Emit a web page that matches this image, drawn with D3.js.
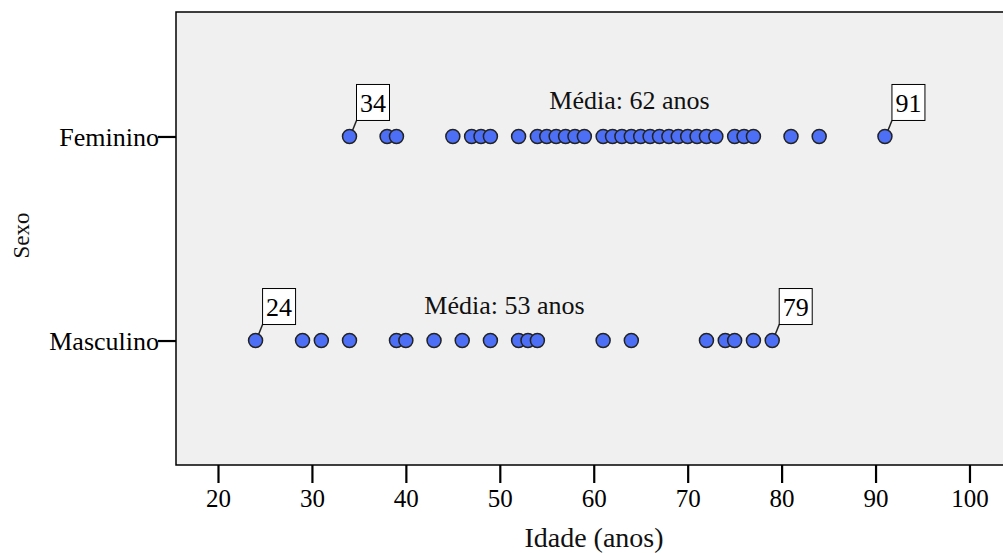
<!DOCTYPE html>
<html>
<head>
<meta charset="utf-8">
<script src="https://cdn.jsdelivr.net/npm/d3@7"></script>
<style>
  html, body { margin: 0; padding: 0; background: #fff; }
  svg { display: block; }
  svg text { font-family: Liberation Serif, serif; }
</style>
</head>
<body>
<svg id="chart" width="1003" height="553" font-family="Liberation Serif"></svg>
<script>
// Categories (top to bottom)
const groups = ["Feminino", "Masculino"];

// Ages
const agesFeminino = [34, 38, 39, 45, 47, 48, 49, 52, 54, 55, 56, 57, 58, 59, 61, 62, 63, 64,
  65, 66, 67, 68, 69, 70, 71, 72, 73, 75, 76, 77, 81, 84, 91];
const agesMasculino = [24, 29, 31, 34, 39, 40, 43, 46, 49, 52, 53, 54, 61, 64, 72, 74, 75, 77, 79];

// Min / max callouts and mean labels
const extremes = [
  { group: "Feminino", age: 34 },
  { group: "Feminino", age: 91 },
  { group: "Masculino", age: 24 },
  { group: "Masculino", age: 79 }
];
const meanLabels = [
  { group: "Feminino", text: "Média: 62 anos", at: 63.8 },
  { group: "Masculino", text: "Média: 53 anos", at: 50.5 }
];

const xTicks = [20, 30, 40, 50, 60, 70, 80, 90, 100];

const points = [
  ...agesFeminino.map(a => ({ group: "Feminino", age: a })),
  ...agesMasculino.map(a => ({ group: "Masculino", age: a }))
];

const FONT = "Liberation Serif, serif";

const svg = d3.select("#chart");

const plot = { left: 176, top: 12, right: 1008, bottom: 465 };

const x = d3.scaleLinear()
  .domain([15.53, 104.1])
  .range([plot.left, plot.right]);

const y = d3.scalePoint()
  .domain(groups)
  .range([plot.top, plot.bottom])
  .padding(0.61);

// Plot background + frame (right edge falls just outside the picture)
svg.append("rect")
  .attr("x", plot.left)
  .attr("y", plot.top)
  .attr("width", plot.right - plot.left)
  .attr("height", plot.bottom - plot.top)
  .attr("fill", "#f0f0f0")
  .attr("stroke", "#000")
  .attr("stroke-width", 1.5);

// X axis
const xAxis = svg.append("g")
  .attr("transform", `translate(0,${plot.bottom})`)
  .call(d3.axisBottom(x).tickValues(xTicks).tickSize(18).tickPadding(6));
xAxis.attr("font-family", FONT).attr("font-size", 25);
xAxis.select(".domain").remove();
xAxis.selectAll(".tick line").attr("stroke", "#000").attr("stroke-width", 2.2);
xAxis.selectAll(".tick text").attr("fill", "#000");

// Y axis
const yAxis = svg.append("g")
  .attr("transform", `translate(${plot.left},0)`)
  .call(d3.axisLeft(y).tickSize(18).tickPadding(-1));
yAxis.attr("font-family", FONT).attr("font-size", 26);
yAxis.select(".domain").remove();
yAxis.selectAll(".tick line").attr("stroke", "#000").attr("stroke-width", 2.2);
yAxis.selectAll(".tick text")
  .attr("fill", "#000")
  .attr("dy", "0.36em");

// Texts outside the axes
const labels = svg.append("g")
  .attr("font-family", FONT)
  .attr("font-size", 26)
  .attr("fill", "#111");

// Axis titles
labels.append("text")
  .attr("x", 594)
  .attr("y", 547)
  .attr("text-anchor", "middle")
  .attr("font-size", 28)
  .text("Idade (anos)");

labels.append("text")
  .attr("transform", `translate(29,${(plot.top + plot.bottom) / 2 - 3}) rotate(-90)`)
  .attr("text-anchor", "middle")
  .attr("font-size", 23)
  .text("Sexo");

// Mean labels
labels.selectAll(".mean")
  .data(meanLabels)
  .join("text")
  .attr("class", "mean")
  .attr("x", d => x(d.at))
  .attr("y", d => y(d.group) - 27)
  .attr("text-anchor", "middle")
  .text(d => d.text);

// Points
svg.selectAll(".dot")
  .data(points)
  .join("circle")
  .attr("class", "dot")
  .attr("cx", d => x(d.age))
  .attr("cy", d => y(d.group))
  .attr("r", 7)
  .attr("fill", "#4d6ff5")
  .attr("stroke", "#222")
  .attr("stroke-width", 1.5);

// Callout boxes for min / max
const boxW = 33, boxH = 36;
const callout = svg.append("g")
  .attr("font-family", FONT)
  .attr("font-size", 26)
  .selectAll(".callout")
  .data(extremes)
  .join("g")
  .attr("class", "callout")
  .attr("transform", d => `translate(${x(d.age)},${y(d.group)})`);

callout.append("line")
  .attr("x1", 3).attr("y1", -6)
  .attr("x2", 7).attr("y2", -16)
  .attr("stroke", "#222")
  .attr("stroke-width", 1.5);

callout.append("rect")
  .attr("x", 7)
  .attr("y", -16 - boxH)
  .attr("width", boxW)
  .attr("height", boxH)
  .attr("fill", "#fff")
  .attr("stroke", "#000")
  .attr("stroke-width", 1);

callout.append("text")
  .attr("x", 7 + boxW / 2)
  .attr("y", -16 - boxH / 2)
  .attr("dy", "0.35em")
  .attr("text-anchor", "middle")
  .text(d => d.age);
</script>
</body>
</html>
